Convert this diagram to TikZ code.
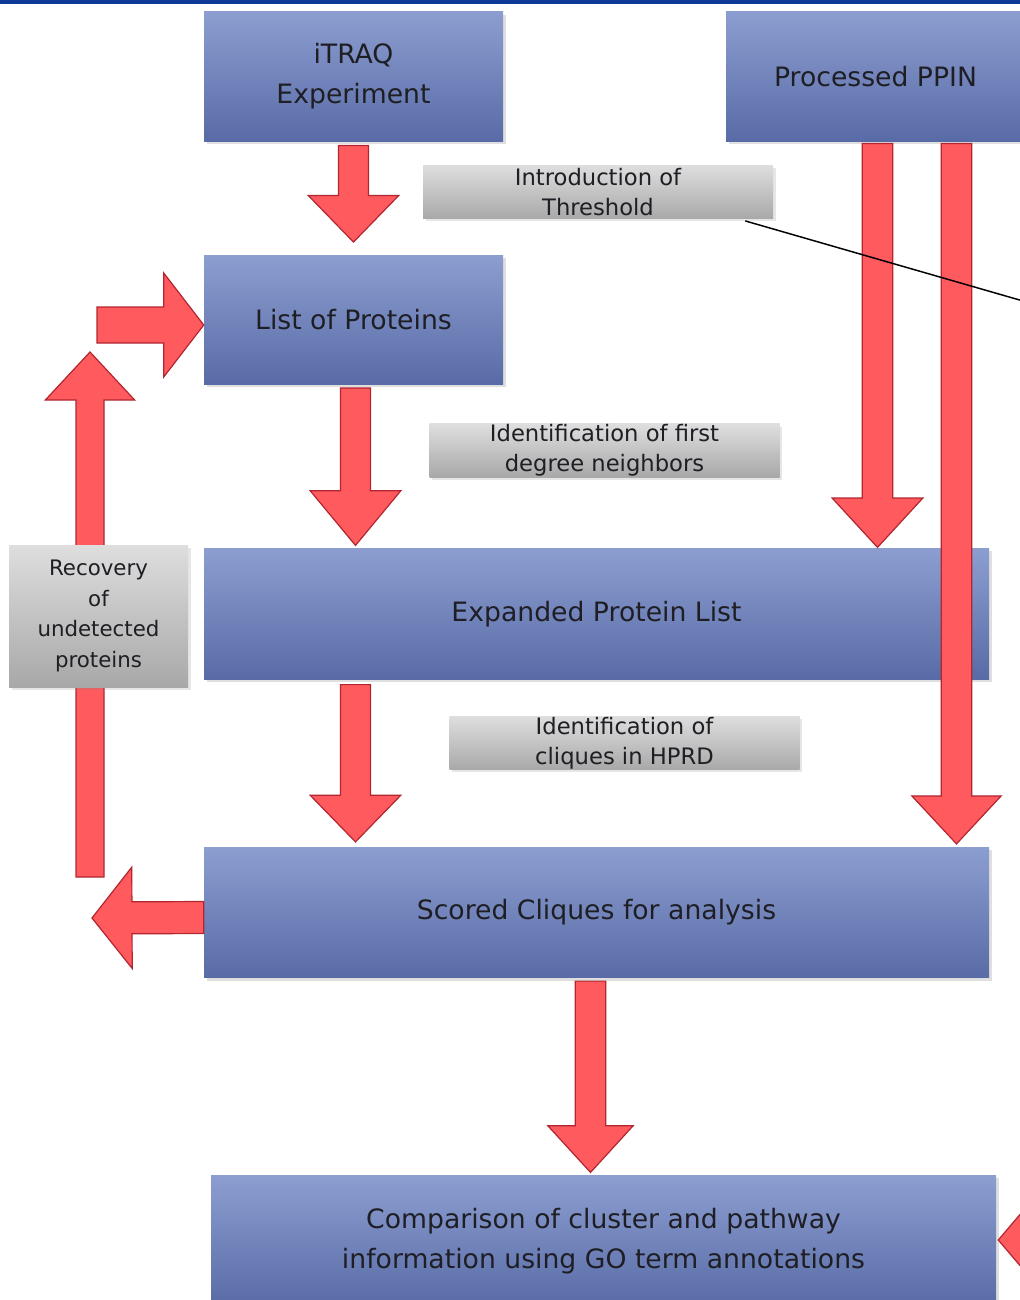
\documentclass[tikz,border=0pt]{standalone}
\usepackage{fontspec}
\setmainfont{DejaVu Sans}
\usetikzlibrary{calc,shadows}

\definecolor{boxtop}{RGB}{140,158,208}
\definecolor{boxbot}{RGB}{88,107,166}
\definecolor{greytop}{RGB}{222,222,222}
\definecolor{greybot}{RGB}{168,168,168}
\definecolor{arrowfill}{RGB}{255,90,94}
\definecolor{arrowline}{RGB}{178,38,48}
\definecolor{barblue}{RGB}{12,56,150}
\definecolor{inktext}{RGB}{30,30,36}

\tikzset{
  bluebox/.style={rectangle, top color=boxtop, bottom color=boxbot, draw=none,
    minimum width=224.25pt, minimum height=97pt, align=center, text=inktext,
    font=\fontsize{20}{30}\selectfont,
    drop shadow={opacity=0.25, shadow xshift=2pt, shadow yshift=-2pt}},
  widebox/.style={bluebox, minimum width=588.75pt, minimum height=98pt},
  greylabel/.style={rectangle, top color=greytop, bottom color=greybot, draw=none,
    minimum width=262.5pt, minimum height=40pt, align=center, text=inktext,
    inner sep=0pt, font=\fontsize{17}{22.5}\selectfont,
    drop shadow={opacity=0.2, shadow xshift=2pt, shadow yshift=-2pt}},
  redarrow/.style={fill=arrowfill, draw=arrowline, line width=0.9pt, line join=miter}
}

% from, to, shaft half width, head half width, head length
\newcommand{\blockarrow}[5]{%
  \coordinate (ba) at #1;
  \coordinate (bb) at #2;
  \coordinate (bh) at ($(bb)!#5!(ba)$);
  \draw[redarrow] ($(ba)!#3!90:(bb)$) -- ($(bh)!#3!90:(bb)$) -- ($(bh)!#4!90:(bb)$) -- (bb)
    -- ($(bh)!#4!-90:(bb)$) -- ($(bh)!#3!-90:(bb)$) -- ($(ba)!#3!-90:(bb)$) -- cycle;}

\begin{document}
\begin{tikzpicture}[x=0.75pt,y=-0.75pt]
\useasboundingbox (0,0) rectangle (1020,1300);
\clip (0,0) rectangle (1020,1300);
\fill[barblue] (0,0) rectangle (1020,4);

\node[bluebox] (itraq) at (353.5,76.5) {iTRAQ\\Experiment};
\node[bluebox] (ppin) at (875.5,76.5) {Processed PPIN};
\node[bluebox] (list) at (353.5,320) {List of Proteins};
\node[widebox] (expanded) at (596.5,614) {Expanded Protein List};
\node[widebox] (scored) at (596.5,912.5) {Scored Cliques for analysis};
\node[widebox] (comparison) at (603.5,1241) {Comparison of cluster and pathway\\information using GO term annotations};

\coordinate (uptip) at (90,352);
\coordinate (upfoot) at (90,877);
\coordinate (intail) at (97,325);
\coordinate (outtip) at (92,918);
\coordinate (edgetail) at (1100,1240);

\blockarrow{($(itraq.south)+(0,4)$)}{($(list.north)+(0,-13)$)}{11.25pt}{34pt}{35pt}
\blockarrow{($(list.south)+(2,3)$)}{($(list.south |- expanded.north)+(2,-3)$)}{11.25pt}{34pt}{41pt}
\blockarrow{($(list.south |- expanded.south)+(2,5)$)}{($(list.south |- scored.north)+(2,-5)$)}{11.25pt}{34pt}{35pt}
\blockarrow{($(scored.south)+(-6,3)$)}{($(scored.south |- comparison.north)+(-6,-3)$)}{11.5pt}{32pt}{35pt}
\blockarrow{($(ppin.south)+(2,2)$)}{($(ppin.south |- expanded.north)+(2,-1)$)}{11.5pt}{34pt}{37pt}
\blockarrow{($(ppin.south)+(81,2)$)}{($(ppin.south |- scored.north)+(81,-3)$)}{11.5pt}{33.5pt}{36pt}
\blockarrow{(intail)}{($(list.west)+(0,5)$)}{13.5pt}{39pt}{30pt}
\blockarrow{(upfoot)}{(uptip)}{10.5pt}{33.5pt}{36pt}
\blockarrow{($(scored.west)+(0,5)$)}{(outtip)}{12pt}{38pt}{30pt}
\blockarrow{(edgetail)}{($(comparison.east)+(2,-1)$)}{13pt}{40pt}{34pt}

\node[greylabel] (thresh) at (598,192) {Introduction of\\Threshold};
\node[greylabel] (firstdeg) at (604.5,450.5) {Identification of first\\degree neighbors};
\node[greylabel] (cliques) at (624.5,743) {Identification of\\cliques in HPRD};
\node[greylabel, minimum width=134.25pt, minimum height=106.5pt,
  font=\fontsize{16}{23}\selectfont] (recovery) at (98.5,616) {Recovery\\of\\undetected\\proteins};

\coordinate (lineend) at (1030,303);
\draw[black, line width=1.1pt] ($(thresh.south east)+(-28,2)$) -- (lineend);
\end{tikzpicture}
\end{document}
